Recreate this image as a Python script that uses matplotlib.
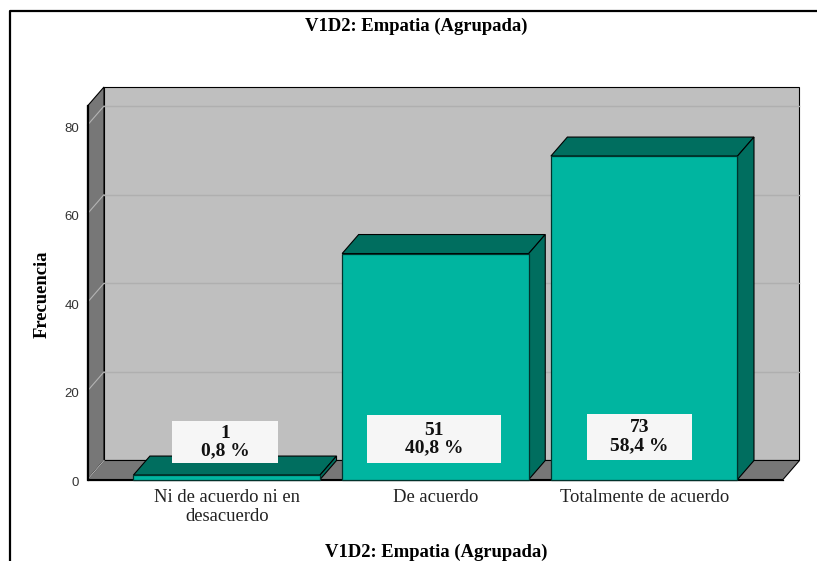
import matplotlib
matplotlib.use('Agg')
import matplotlib.pyplot as plt
from matplotlib.lines import Line2D
from matplotlib.patches import Polygon, Rectangle
from matplotlib.transforms import ScaledTranslation

categories = ['Ni de acuerdo ni en\ndesacuerdo', 'De acuerdo', 'Totalmente de acuerdo']
counts = [1, 51, 73]
percents = ['0,8 %', '40,8 %', '58,4 %']
y_ticks = [0, 20, 40, 60, 80]
title = 'V1D2: Empatia (Agrupada)'
y_label = 'Frecuencia'

W, H = 817, 561
FRONT = '#00b5a0'
DARK = '#006e5f'
WALL = '#bfbfbf'
FLOOR = '#777777'
SERIF = 'Liberation Serif'

# depth of the fake 3d box, in data units
DX = 0.079
DY = 4.29
BAR_W = 0.894
X0, X1 = -0.667, 2.665
Y_TOP = 84.3

fig = plt.figure(figsize=(W / 100, H / 100), dpi=100)
ax = fig.add_axes([87.5 / W, 1 - 479.5 / H, (783 - 87.5) / W, (479.5 - 106) / H])
ax.set_xlim(X0, X1)
ax.set_ylim(0, Y_TOP)
ax.patch.set_visible(False)
for s in ax.spines.values():
    s.set_visible(False)


def poly(pts, color, edge='black', lw=0.8, z=1):
    ax.add_patch(Polygon(pts, closed=True, facecolor=color, edgecolor=edge, linewidth=lw,
                         zorder=z, clip_on=False, joinstyle='miter'))


# walls
poly([(X0 + DX, DY), (X1 + DX, DY), (X1 + DX, Y_TOP + DY), (X0 + DX, Y_TOP + DY)], WALL)
poly([(X0, 0), (X0 + DX, DY), (X0 + DX, Y_TOP + DY), (X0, Y_TOP)], FLOOR)
poly([(X0, 0), (X1, 0), (X1 + DX, DY), (X0 + DX, DY)], FLOOR)
ax.plot([X0, X0], [0, Y_TOP], color='black', lw=1.6, zorder=2, clip_on=False)
ax.plot([X0, X1], [0, 0], color='black', lw=0.9, zorder=2, clip_on=False)

# gridlines, back wall and side wall
for t in y_ticks[1:]:
    ax.plot([X0 + DX, X1 + DX], [t + DY, t + DY], color='#afafaf', lw=1.0, zorder=1.5, clip_on=False)
    ax.plot([X0, X0 + DX], [t, t + DY], color='#b4b4b4', lw=0.8, zorder=1.5, clip_on=False)
ax.plot([X0, X0 + DX], [0, DY], color='#b4b4b4', lw=0.8, zorder=1.5, clip_on=False)

# bars
for i, v in enumerate(counts):
    l, r = i - BAR_W / 2, i + BAR_W / 2
    poly([(l, v), (r, v), (r + DX, v + DY), (l + DX, v + DY)], DARK, z=3)
    poly([(r, 0), (r + DX, DY), (r + DX, v + DY), (r, v)], DARK, z=3)
    ax.add_patch(Rectangle((l, 0), BAR_W, v, facecolor=FRONT, edgecolor='#00332c', linewidth=0.9,
                           zorder=4, clip_on=False))

# value boxes: (left, right, bottom, top) in data units
boxes = [(-0.262, 0.246, 3.7, 13.2), (0.672, 1.314, 3.7, 14.5), (1.726, 2.229, 4.4, 14.8)]
for i, (a, b, lo, hi) in enumerate(boxes):
    ax.add_patch(Rectangle((a, lo), b - a, hi - lo, facecolor='#f6f6f6', edgecolor='none', zorder=5))
    ax.text((a + b) / 2, (lo + hi) / 2, f'{counts[i]}\n{percents[i]}', ha='center', va='center',
            family=SERIF, fontweight='bold', fontsize=14, linespacing=1.08, color='#111111', zorder=6)

ax.set_xticks(range(len(categories)))
ax.set_xticklabels(categories, family=SERIF, fontsize=13.4, color='#222222', linespacing=1.12)
ax.set_yticks(y_ticks)
ax.set_yticklabels([str(t) for t in y_ticks], family='Liberation Sans', fontsize=9.5, color='#333333')
ax.tick_params(axis='both', length=0)
ax.tick_params(axis='x', pad=7)
ax.tick_params(axis='y', pad=6)
# y labels sit about 2px under their gridline start
for lab in ax.get_yticklabels():
    lab.set_transform(lab.get_transform() + ScaledTranslation(0, -2 / 100, fig.dpi_scale_trans))

fig.text(416 / W, 1 - 26 / H, title, ha='center', va='center', family=SERIF, fontweight='bold', fontsize=13.4)
fig.text(436 / W, 1 - 552 / H, title, ha='center', va='center', family=SERIF, fontweight='bold', fontsize=13.4)
fig.text(42 / W, 1 - 294 / H, y_label, rotation=90, ha='center', va='center', family=SERIF,
         fontweight='bold', fontsize=13.4)

# outer frame, left and top only
fig.add_artist(Line2D([10 / W, 10 / W, 1], [0, 1 - 11 / H, 1 - 11 / H], color='black', lw=1.6))

fig.savefig('out.png', dpi=100)
